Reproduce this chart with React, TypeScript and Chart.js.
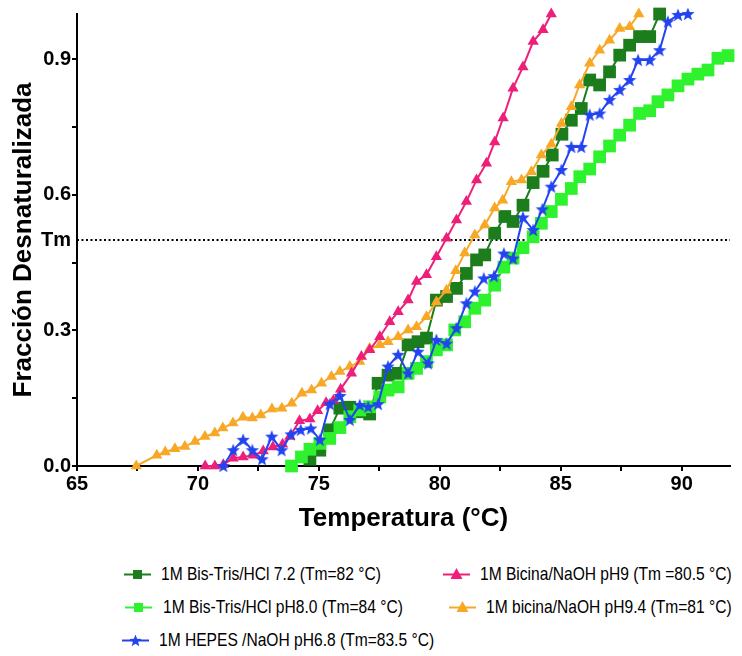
import React, { useEffect, useRef } from 'react';
import { Chart, registerables } from 'chart.js';

Chart.register(...registerables);

// ---------- data ----------
const darkGreenX = [74.63, 75.04, 75.45, 75.87, 76.28, 76.69, 77.1, 77.45, 77.86, 78.28, 78.69, 79.1, 79.45, 79.86, 80.28, 80.69, 81.1, 81.52, 81.86, 82.27, 82.69, 83.03, 83.44, 83.86, 84.27, 84.65, 85.05, 85.44, 85.85, 86.2, 86.61, 87.02, 87.44, 87.85, 88.26, 88.68, 89.09];
const darkGreenY = [0.015, 0.035, 0.08, 0.128, 0.13, 0.12, 0.115, 0.183, 0.201, 0.205, 0.268, 0.275, 0.283, 0.367, 0.375, 0.393, 0.426, 0.456, 0.467, 0.515, 0.552, 0.541, 0.577, 0.627, 0.652, 0.688, 0.734, 0.765, 0.791, 0.854, 0.843, 0.872, 0.909, 0.931, 0.95, 0.95, 1.0];

const brightGreenX = [73.87, 74.28, 74.63, 75.04, 75.45, 75.87, 76.28, 76.69, 77.1, 77.52, 77.86, 78.28, 78.69, 79.04, 79.45, 79.86, 80.28, 80.62, 81.03, 81.45, 81.86, 82.27, 82.65, 83.03, 83.44, 83.86, 84.2, 84.61, 85.03, 85.44, 85.79, 86.2, 86.61, 87.02, 87.44, 87.85, 88.26, 88.68, 89.02, 89.43, 89.85, 90.26, 90.67, 91.09, 91.5, 91.92];
const brightGreenY = [0, 0.02, 0.037, 0.05, 0.061, 0.085, 0.109, 0.124, 0.131, 0.153, 0.168, 0.175, 0.205, 0.216, 0.231, 0.257, 0.268, 0.301, 0.319, 0.349, 0.367, 0.4, 0.44, 0.46, 0.483, 0.507, 0.537, 0.563, 0.59, 0.614, 0.64, 0.657, 0.684, 0.708, 0.732, 0.754, 0.78, 0.786, 0.806, 0.821, 0.841, 0.856, 0.867, 0.876, 0.902, 0.908];

const blueX = [71.05, 71.46, 71.87, 72.25, 72.65, 73.05, 73.46, 73.85, 74.25, 74.67, 75.04, 75.45, 75.87, 76.28, 76.69, 77.04, 77.45, 77.86, 78.28, 78.69, 79.1, 79.52, 79.86, 80.28, 80.69, 81.1, 81.45, 81.82, 82.24, 82.65, 83.03, 83.44, 83.86, 84.24, 84.61, 85.03, 85.44, 85.85, 86.2, 86.61, 87.02, 87.44, 87.85, 88.2, 88.68, 89.09, 89.43, 89.85, 90.26];
const blueY = [0, 0.035, 0.058, 0.035, 0.015, 0.065, 0.035, 0.07, 0.08, 0.083, 0.058, 0.137, 0.155, 0.102, 0.135, 0.131, 0.137, 0.22, 0.246, 0.205, 0.253, 0.227, 0.279, 0.271, 0.305, 0.36, 0.386, 0.415, 0.42, 0.47, 0.459, 0.55, 0.522, 0.568, 0.618, 0.655, 0.706, 0.706, 0.777, 0.78, 0.81, 0.832, 0.854, 0.898, 0.898, 0.92, 0.983, 0.998, 1.0];

const pinkX = [70.3, 70.7, 71.05, 71.46, 71.87, 72.29, 72.7, 73.1, 73.5, 73.8, 74.2, 74.63, 74.95, 75.3, 75.6, 75.9, 76.35, 76.76, 77.1, 77.52, 77.93, 78.28, 78.69, 79.04, 79.45, 79.86, 80.28, 80.69, 81.1, 81.52, 81.93, 82.27, 82.62, 83.03, 83.44, 83.86, 84.27, 84.61];
const pinkY = [0, 0, 0.003, 0.017, 0.02, 0.024, 0.033, 0.042, 0.048, 0.065, 0.1, 0.104, 0.122, 0.14, 0.145, 0.17, 0.205, 0.242, 0.257, 0.286, 0.319, 0.341, 0.367, 0.408, 0.423, 0.463, 0.504, 0.544, 0.585, 0.633, 0.67, 0.717, 0.77, 0.836, 0.883, 0.939, 0.965, 1.0];

const orangeX = [67.45, 68.3, 68.65, 69.05, 69.46, 69.88, 70.29, 70.7, 71.03, 71.45, 71.86, 72.25, 72.6, 73.06, 73.47, 73.88, 74.3, 74.7, 75.11, 75.52, 75.87, 76.28, 76.69, 77.1, 77.52, 77.86, 78.28, 78.69, 79.04, 79.45, 79.86, 80.28, 80.66, 81.03, 81.45, 81.86, 82.27, 82.6, 82.96, 83.38, 83.79, 84.2, 84.61, 85.03, 85.44, 85.78, 86.2, 86.61, 87.02, 87.44, 87.85, 88.23];
const orangeY = [0, 0.024, 0.031, 0.038, 0.043, 0.054, 0.065, 0.073, 0.084, 0.095, 0.108, 0.106, 0.113, 0.126, 0.128, 0.139, 0.161, 0.168, 0.183, 0.198, 0.209, 0.22, 0.231, 0.26, 0.268, 0.275, 0.286, 0.301, 0.308, 0.33, 0.363, 0.389, 0.432, 0.471, 0.511, 0.533, 0.571, 0.588, 0.629, 0.633, 0.651, 0.688, 0.712, 0.758, 0.795, 0.843, 0.891, 0.92, 0.942, 0.968, 0.972, 1.0];

const tmLineX = [65, 92];
const tmLineY = [0.5, 0.5];

const yTickValues = [0, 0.15, 0.3, 0.45, 0.5, 0.6, 0.75, 0.9];
const yTickLabels = ['0.0', '', '0.3', '', 'Tm', '0.6', '', '0.9'];
const xTickValues = [65, 67.5, 70, 72.5, 75, 77.5, 80, 82.5, 85, 87.5, 90];
const xTickLabels = ['65', '', '70', '', '75', '', '80', '', '85', '', '90'];

const seriesLabels = [
  '1M Bis-Tris/HCl 7.2 (Tm=82 °C)',
  '1M Bis-Tris/HCl pH8.0 (Tm=84 °C)',
  '1M HEPES /NaOH pH6.8 (Tm=83.5 °C)',
  '1M Bicina/NaOH pH9 (Tm =80.5 °C)',
  '1M bicina/NaOH pH9.4 (Tm=81 °C)',
];

// ---------- styles ----------
const C_DKGREEN = '#1B7D1B';
const C_GREEN = '#2EF22E';
const C_BLUE = '#2244F0';
const C_PINK = '#EE1F7A';
const C_ORANGE = '#F7A827';
const AXIS_FONT = '"Liberation Sans", Arial, Helvetica, sans-serif';
const LEGEND_FONT = '"Liberation Sans", Arial, sans-serif';

const zip = (xs: number[], ys: number[]) => xs.map((x, i) => ({ x, y: ys[i] }));

function makeStar(size: number, color: string): HTMLCanvasElement {
  const c = document.createElement('canvas');
  c.width = size;
  c.height = size;
  const ctx = c.getContext('2d')!;
  const cx = size / 2, cy = size / 2 + 0.5;
  const R = size / 2, r = R * 0.42;
  ctx.beginPath();
  for (let i = 0; i < 10; i++) {
    const ang = -Math.PI / 2 + (i * Math.PI) / 5;
    const rad = i % 2 === 0 ? R : r;
    const px = cx + rad * Math.cos(ang);
    const py = cy + rad * Math.sin(ang);
    if (i === 0) ctx.moveTo(px, py); else ctx.lineTo(px, py);
  }
  ctx.closePath();
  ctx.fillStyle = color;
  ctx.fill();
  return c;
}

function LegendMarker({ kind, color }: { kind: string; color: string }) {
  let marker: React.ReactNode = null;
  if (kind === 'square') marker = <rect x={10} y={4} width={9} height={9} fill={color} />;
  if (kind === 'triangle') marker = <polygon points="14.5,2 20.5,13 8.5,13" fill={color} />;
  if (kind === 'star') {
    const pts: string[] = [];
    for (let i = 0; i < 10; i++) {
      const ang = -Math.PI / 2 + (i * Math.PI) / 5;
      const rad = i % 2 === 0 ? 6.5 : 2.7;
      pts.push(`${(14.5 + rad * Math.cos(ang)).toFixed(2)},${(9 + rad * Math.sin(ang)).toFixed(2)}`);
    }
    marker = <polygon points={pts.join(' ')} fill={color} />;
  }
  return (
    <svg width={29} height={17} style={{ display: 'block' }}>
      <line x1={1} y1={8.5} x2={28} y2={8.5} stroke={color} strokeWidth={2} />
      {marker}
    </svg>
  );
}

const legendItems = [
  { label: seriesLabels[0], kind: 'square', color: C_DKGREEN, mx: 123, tx: 161, cy: 574 },
  { label: seriesLabels[1], kind: 'square', color: C_GREEN, mx: 124, tx: 163, cy: 607 },
  { label: seriesLabels[2], kind: 'star', color: C_BLUE, mx: 121, tx: 159, cy: 640 },
  { label: seriesLabels[3], kind: 'triangle', color: C_PINK, mx: 442, tx: 480, cy: 574 },
  { label: seriesLabels[4], kind: 'triangle', color: C_ORANGE, mx: 448, tx: 486, cy: 607 },
];

export default function App() {
  const canvasRef = useRef<HTMLCanvasElement | null>(null);

  useEffect(() => {
    if (!canvasRef.current) return;
    const star = makeStar(14, C_BLUE);
    const tickFont = { family: AXIS_FONT, size: 20, weight: 'bold' as const };
    const titleFont = { family: AXIS_FONT, size: 26, weight: 'bold' as const };

    const chart = new Chart(canvasRef.current, {
      type: 'scatter',
      data: {
        datasets: [
          {
            label: seriesLabels[2], data: zip(blueX, blueY), showLine: true,
            borderColor: C_BLUE, borderWidth: 2, backgroundColor: C_BLUE,
            pointStyle: star as any, pointRadius: 7, order: 1, clip: false as any,
          },
          {
            label: seriesLabels[3], data: zip(pinkX, pinkY), showLine: true,
            borderColor: C_PINK, borderWidth: 2, backgroundColor: C_PINK,
            pointStyle: 'triangle', pointRadius: 6.5, pointBorderWidth: 0, order: 2, clip: false as any,
          },
          {
            label: seriesLabels[4], data: zip(orangeX, orangeY), showLine: true,
            borderColor: C_ORANGE, borderWidth: 2, backgroundColor: C_ORANGE,
            pointStyle: 'triangle', pointRadius: 6.5, pointBorderWidth: 0, order: 3, clip: false as any,
          },
          {
            label: seriesLabels[1], data: zip(brightGreenX, brightGreenY), showLine: true,
            borderColor: C_GREEN, borderWidth: 2, backgroundColor: C_GREEN,
            pointStyle: 'rect', pointRadius: 9, pointBorderWidth: 0, order: 4, clip: false as any,
          },
          {
            label: seriesLabels[0], data: zip(darkGreenX, darkGreenY), showLine: true,
            borderColor: C_DKGREEN, borderWidth: 2, backgroundColor: C_DKGREEN,
            pointStyle: 'rect', pointRadius: 9, pointBorderWidth: 0, order: 5, clip: false as any,
          },
          {
            label: 'Tm', data: zip(tmLineX, tmLineY), showLine: true,
            borderColor: '#000', borderWidth: 2, borderDash: [2, 2.5],
            pointRadius: 0, order: 6,
          },
        ],
      },
      options: {
        animation: false,
        responsive: false,
        maintainAspectRatio: false,
        layout: { padding: { top: 14, right: 12, left: 0, bottom: 0 } },
        elements: { line: { tension: 0 } },
        plugins: { legend: { display: false }, tooltip: { enabled: false } },
        scales: {
          x: {
            type: 'linear', min: 65, max: 92,
            afterBuildTicks: (s: any) => { s.ticks = xTickValues.map((v) => ({ value: v })); },
            afterFit: (s: any) => { s.height = 68; },
            ticks: {
              autoSkip: false, maxRotation: 0, minRotation: 0, padding: 1,
              color: '#000', font: tickFont,
              callback: (v: any) => { const i = xTickValues.indexOf(Number(v)); return i >= 0 ? xTickLabels[i] : ''; },
            },
            grid: { drawOnChartArea: false, drawTicks: true, tickLength: 5, color: '#000', lineWidth: 2 },
            border: { color: '#000', width: 2 },
            title: { display: true, text: 'Temperatura (°C)', color: '#000', font: titleFont, padding: { top: 0, bottom: 0 } },
          },
          y: {
            type: 'linear', min: 0, max: 1.0,
            afterBuildTicks: (s: any) => { s.ticks = yTickValues.map((v) => ({ value: v })); },
            afterFit: (s: any) => { s.width = 77; },
            ticks: {
              autoSkip: false, padding: 1, color: '#000', font: tickFont,
              callback: (v: any) => { const i = yTickValues.indexOf(Number(v)); return i >= 0 ? yTickLabels[i] : ''; },
            },
            grid: {
              drawOnChartArea: false, drawTicks: true, tickLength: 5, lineWidth: 2,
              color: (ctx: any) => (ctx.tick && ctx.tick.value === 0.5 ? 'rgba(0,0,0,0)' : '#000'),
            },
            border: { color: '#000', width: 2 },
            title: { display: true, text: 'Fracción Desnaturalizada', color: '#000', font: titleFont, padding: { top: 8, bottom: 0 } },
          },
        },
      } as any,
    });
    return () => chart.destroy();
  }, []);

  return (
    <div style={{ position: 'absolute', left: 0, top: 0, width: 742, height: 656, background: '#fff', overflow: 'hidden' }}>
      <canvas ref={canvasRef} width={742} height={534} style={{ position: 'absolute', left: 0, top: 0, width: 742, height: 534 }} />
      {legendItems.map((it, i) => (
        <React.Fragment key={i}>
          <div style={{ position: 'absolute', left: it.mx, top: it.cy - 8.5 }}>
            <LegendMarker kind={it.kind} color={it.color} />
          </div>
          <div style={{
            position: 'absolute', left: it.tx, top: it.cy - 12, height: 24, lineHeight: '24px',
            fontFamily: LEGEND_FONT, fontSize: 19, color: '#000', whiteSpace: 'nowrap',
            transform: 'scaleX(0.82)', transformOrigin: '0 50%',
          }}>{it.label}</div>
        </React.Fragment>
      ))}
    </div>
  );
}
